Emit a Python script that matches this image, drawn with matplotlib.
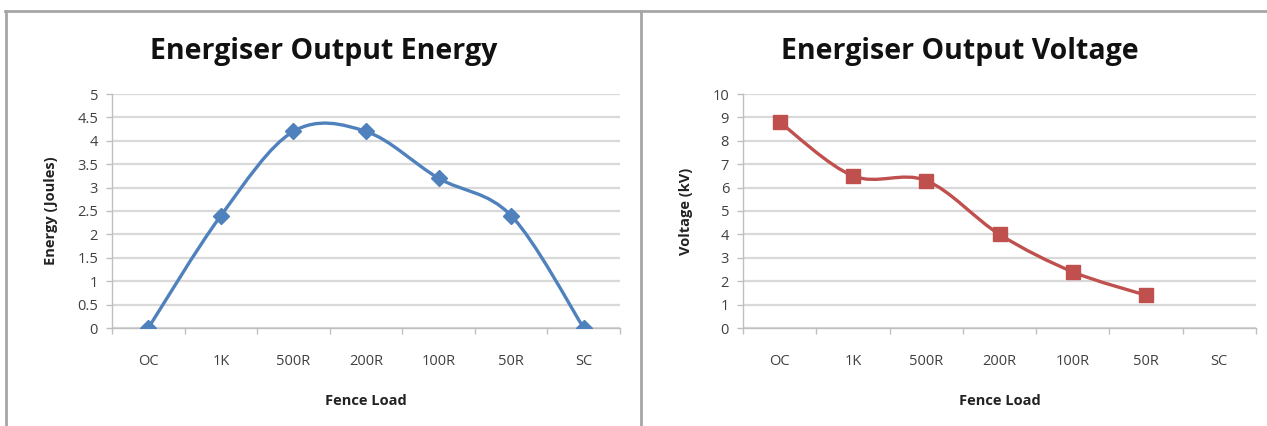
import matplotlib
matplotlib.use("Agg")
import matplotlib.pyplot as plt
from matplotlib.path import Path
from matplotlib.patches import PathPatch
from matplotlib.lines import Line2D

loads = ["OC", "1K", "500R", "200R", "100R", "50R", "SC"]
energy = [0, 2.4, 4.2, 4.2, 3.2, 2.4, 0]
voltage = [8.8, 6.5, 6.3, 4.0, 2.4, 1.4]

blue = "#4F81BD"
red = "#C0504D"
grid_c = "#d9d9d9"
axis_c = "#bfbfbf"
text_c = "#404040"

plt.rcParams['font.family'] = ['Open Sans', 'DejaVu Sans']


def smooth_path(xs, ys):
    # excel-like smoothed line: bezier segments through every point
    pts = list(zip(xs, ys))
    n = len(pts)
    verts = [pts[0]]
    codes = [Path.MOVETO]
    for i in range(n - 1):
        p0 = pts[i - 1] if i > 0 else pts[i]
        p1 = pts[i]
        p2 = pts[i + 1]
        p3 = pts[i + 2] if i + 2 < n else pts[i + 1]
        c1 = (p1[0] + (p2[0] - p0[0]) / 6, p1[1] + (p2[1] - p0[1]) / 6)
        c2 = (p2[0] - (p3[0] - p1[0]) / 6, p2[1] - (p3[1] - p1[1]) / 6)
        verts += [c1, c2, p2]
        codes += [Path.CURVE4] * 3
    return Path(verts, codes)


def draw_panel(ax, values, color, marker, ms, ymax, ystep, yfmt, ylabel):
    xs = list(range(len(values)))
    ax.add_patch(PathPatch(smooth_path(xs, values), fill=False,
                           edgecolor=color, lw=2.4, zorder=3))
    ax.plot(xs, values, ls="none", marker=marker, ms=ms, color=color, zorder=4)
    ax.set_xlim(-0.5, len(loads) - 0.5)
    ax.set_ylim(0, ymax)
    ticks = [i * ystep for i in range(int(round(ymax / ystep)) + 1)]
    ax.set_yticks(ticks)
    ax.set_yticklabels([yfmt(t) for t in ticks])
    ax.set_xticks(range(len(loads)))
    ax.set_xticklabels(loads)
    ax.set_xticks([i - 0.5 for i in range(len(loads) + 1)], minor=True)
    ax.tick_params(axis="x", which="major", length=0, pad=19,
                   labelsize=10.5, labelcolor=text_c)
    ax.tick_params(axis="x", which="minor", length=4, color=axis_c, width=1)
    ax.tick_params(axis="y", length=4, color=axis_c, width=1, pad=6,
                   labelsize=10.5, labelcolor=text_c)
    ax.grid(axis="y", color=grid_c, lw=1.6)
    ax.set_axisbelow(True)
    for s in ["top", "right"]:
        ax.spines[s].set_visible(False)
    for s in ["left", "bottom"]:
        ax.spines[s].set_color(axis_c)
        ax.spines[s].set_linewidth(1)
    ax.set_ylabel(ylabel, fontsize=10.5, fontweight="bold", color="#222222", labelpad=14)
    ax.set_xlabel("Fence Load", fontsize=10.5, fontweight="bold", color="#222222", labelpad=18)


fig = plt.figure(figsize=(12.67, 4.26), dpi=100)

ax1 = fig.add_axes([112 / 1267, 1 - 328 / 426, 508 / 1267, 234 / 426])
ax2 = fig.add_axes([743 / 1267, 1 - 328 / 426, 513 / 1267, 234 / 426])

draw_panel(ax1, energy, blue, "D", 8, 5, 0.5,
           lambda t: ("%g" % t), "Energy (Joules)")
draw_panel(ax2, voltage, red, "s", 9.5, 10, 1,
           lambda t: ("%d" % t), "Voltage (kV)")

fig.text(324 / 1267, 1 - 51 / 426, "Energiser Output Energy", ha="center",
         va="center", fontsize=20.5, fontweight="bold", color="#111111")
fig.text(960 / 1267, 1 - 51 / 426, "Energiser Output Voltage", ha="center",
         va="center", fontsize=20.5, fontweight="bold", color="#111111")

# chart frames
border = "#a6a6a6"
fig.add_artist(Line2D([5 / 1267, 1], [1 - 11 / 426] * 2, color=border, lw=2))
fig.add_artist(Line2D([6 / 1267] * 2, [0, 1 - 11 / 426], color=border, lw=2))
fig.add_artist(Line2D([641 / 1267] * 2, [0, 1 - 11 / 426], color=border, lw=2))

fig.savefig("out.png", dpi=100)
